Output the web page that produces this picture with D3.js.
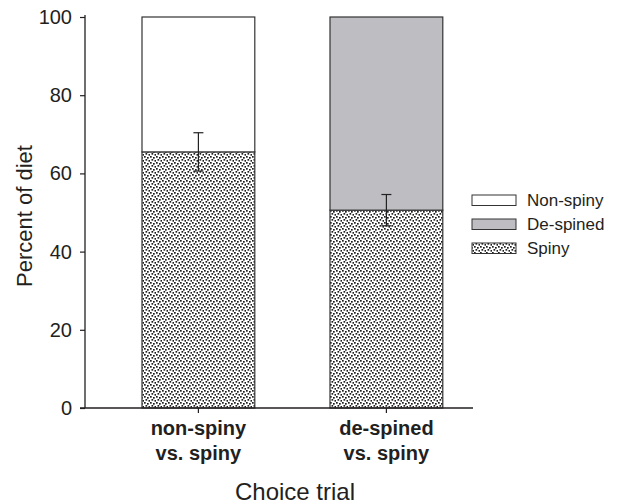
<!DOCTYPE html>
<html>
<head>
<meta charset="utf-8">
<script src="https://cdn.jsdelivr.net/npm/d3@7"></script>
<style>
  body { margin: 0; background: #fff; }
  text { font-family: "Liberation Sans", Arial, sans-serif; fill: #231f20; }
</style>
</head>
<body>
<div id="chart"></div>
<script>

//Data
var trials = ["non-spiny vs. spiny", "de-spined vs. spiny"];
var trialLines = [["non-spiny", "vs. spiny"], ["de-spined", "vs. spiny"]];
var spiny = [65.5, 50.6];
var spinyErr = [4.9, 4.0];
var other = [34.5, 49.4];
var otherNames = ["Non-spiny", "De-spined"];
var yTicks = [0, 20, 40, 60, 80, 100];
var legendKeys = ["Non-spiny", "De-spined", "Spiny"];

//Width and Height
var w = 619;
var h = 504;
var margin = {top: 17, left: 85, bottom: 96, right: 147};

var gray = "#bebec2";
var ink = "#231f20";

var svg = d3.select("#chart")
    .append("svg")
    .attr("width", w)
    .attr("height", h);

//Stipple pattern for spiny (a small tile of offset dots)
var defs = svg.append("defs");
var pat = defs.append("pattern")
    .attr("id", "stipple")
    .attr("patternUnits", "userSpaceOnUse")
    .attr("width", 6)
    .attr("height", 6);
pat.append("rect").attr("width", 6).attr("height", 6).attr("fill", "#fff");
[[0, 0], [3, 1], [1.5, 3], [4.5, 4]].forEach(function(p) {
    pat.append("rect")
        .attr("x", p[0]).attr("y", p[1])
        .attr("width", 1.7).attr("height", 1.7)
        .attr("fill", "#1e1e1e");
});

//Scales
var y = d3.scaleLinear()
    .domain([0, 100])
    .range([h - margin.bottom, margin.top]);

var x = d3.scaleBand()
    .domain(trials)
    .range([104.4, 480.4])
    .paddingInner(0.4)
    .paddingOuter(0.2);

//Bars - spiny part
svg.append("g")
    .selectAll("rect")
    .data(trials)
    .enter()
    .append("rect")
    .attr("x", d => x(d))
    .attr("y", (d, i) => y(spiny[i]))
    .attr("width", x.bandwidth())
    .attr("height", (d, i) => y(0) - y(spiny[i]))
    .attr("fill", "url(#stipple)")
    .attr("stroke", "#333")
    .attr("stroke-width", 1.2);

//Bars - other part
svg.append("g")
    .selectAll("rect")
    .data(trials)
    .enter()
    .append("rect")
    .attr("x", d => x(d))
    .attr("y", (d, i) => y(spiny[i] + other[i]))
    .attr("width", x.bandwidth())
    .attr("height", (d, i) => y(spiny[i]) - y(spiny[i] + other[i]))
    .attr("fill", (d, i) => i == 0 ? "#fff" : gray)
    .attr("stroke", "#333")
    .attr("stroke-width", 1.2);

//Error bars
var eb = svg.append("g")
    .attr("stroke", "#222")
    .attr("stroke-width", 1.2);

trials.forEach(function(d, i) {
    var cx = x(d) + x.bandwidth() / 2;
    eb.append("line")
        .attr("x1", cx).attr("x2", cx)
        .attr("y1", y(spiny[i] + spinyErr[i]))
        .attr("y2", y(spiny[i] - spinyErr[i]));
    [spiny[i] + spinyErr[i], spiny[i] - spinyErr[i]].forEach(function(v) {
        eb.append("line")
            .attr("x1", cx - 5).attr("x2", cx + 5)
            .attr("y1", y(v)).attr("y2", y(v));
    });
});

//Y axis
var yAxis = svg.append("g")
    .attr("transform", "translate(" + margin.left + ",0)")
    .call(d3.axisLeft(y).tickValues(yTicks).tickSize(5).tickPadding(8));
yAxis.select(".domain").attr("d", "M0," + (y(100) - 2) + "V" + y(0)).attr("stroke", ink).attr("stroke-width", 1.3);
yAxis.selectAll(".tick line").attr("stroke", ink).attr("stroke-width", 1.2);
yAxis.selectAll(".tick text")
    .style("font-size", "20px")
    .style("font-family", "'Liberation Sans', Arial, sans-serif")
    .style("fill", ink);

//X axis
var xAxis = svg.append("g")
    .attr("transform", "translate(0," + y(0) + ")")
    .call(d3.axisBottom(x).tickSize(5).tickFormat(""));
xAxis.select(".domain").attr("d", "M" + (margin.left - 5) + ",0H" + (margin.left + 388)).attr("stroke", ink).attr("stroke-width", 1.3);
xAxis.selectAll(".tick line").attr("stroke", ink).attr("stroke-width", 1.2);

//X tick labels on two lines
svg.append("g")
    .selectAll("text")
    .data(trials)
    .enter()
    .append("text")
    .attr("x", d => x(d) + x.bandwidth() / 2)
    .attr("y", y(0) + 27)
    .attr("text-anchor", "middle")
    .style("font-size", "20px")
    .style("font-weight", "bold")
    .each(function(d, i) {
        var t = d3.select(this);
        trialLines[i].forEach(function(line, j) {
            t.append("tspan")
                .attr("x", x(d) + x.bandwidth() / 2)
                .attr("dy", j == 0 ? 0 : 25)
                .text(line);
        });
    });

//Axis titles
svg.append("text")
    .attr("transform", "translate(32,216) rotate(-90)")
    .attr("text-anchor", "middle")
    .style("font-size", "22px")
    .text("Percent of diet");

svg.append("text")
    .attr("x", 295)
    .attr("y", 500)
    .attr("text-anchor", "middle")
    .style("font-size", "24px")
    .text("Choice trial");

//Legend
var lgLeft = 472;
var lgTop = 195;
var lgSpacing = 24;
var lgFills = ["#fff", gray, "url(#stipple)"];

var legend = svg.append("g").attr("class", "legend");

legend.selectAll("rect")
    .data(legendKeys)
    .enter()
    .append("rect")
    .attr("x", lgLeft)
    .attr("y", (d, i) => lgTop + i * lgSpacing)
    .attr("width", 44)
    .attr("height", 10.5)
    .attr("fill", (d, i) => lgFills[i])
    .attr("stroke", "#333")
    .attr("stroke-width", 1);

legend.selectAll("text")
    .data(legendKeys)
    .enter()
    .append("text")
    .attr("x", lgLeft + 55)
    .attr("y", (d, i) => lgTop + i * lgSpacing + 11)
    .style("font-size", "17px")
    .text(d => d);

</script>
</body>
</html>
